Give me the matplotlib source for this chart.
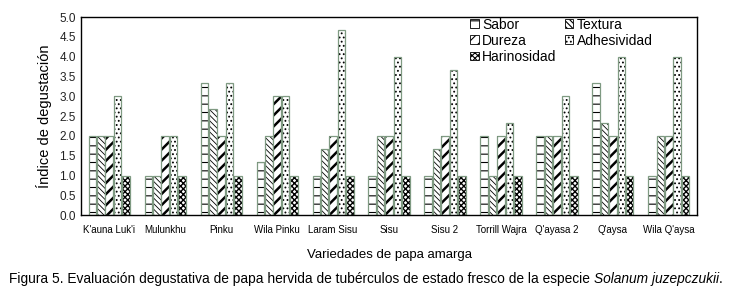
import numpy as np
import matplotlib
matplotlib.use("Agg")
import matplotlib.pyplot as plt
from matplotlib.patches import Patch

plt.rcParams['font.family'] = ['Liberation Sans', 'DejaVu Sans']
plt.rcParams['hatch.linewidth'] = 0.8

# variedades
variedades = ["K'auna Luk'i", "Mulunkhu", "Pinku", "Wila Pinku", "Laram Sisu", "Sisu",
              "Sisu 2", "Torrill Wajra", "Q'ayasa 2", "Q'aysa", "Wila Q'aysa"]

sabor = [2.0, 1.0, 3.33, 1.33, 1.0, 1.0, 1.0, 2.0, 2.0, 3.33, 1.0]
textura = [2.0, 1.0, 2.67, 2.0, 1.67, 2.0, 1.67, 1.0, 2.0, 2.33, 2.0]
dureza = [2.0, 2.0, 2.0, 3.0, 2.0, 2.0, 2.0, 2.0, 2.0, 2.0, 2.0]
adhesividad = [3.0, 2.0, 3.33, 3.0, 4.67, 4.0, 3.67, 2.33, 3.0, 4.0, 4.0]
harinosidad = [1.0, 1.0, 1.0, 1.0, 1.0, 1.0, 1.0, 1.0, 1.0, 1.0, 1.0]

# nombre, valores, hatch, grosor de hatch
series = [("Sabor", sabor, "--", 0.8),
          ("Textura", textura, "\\\\\\\\\\\\", 0.6),
          ("Dureza", dureza, "///", 1.8),
          ("Adhesividad", adhesividad, "....", 0.8),
          ("Harinosidad", harinosidad, "xxxxxx", 1.0)]

edge = "#7f9a82"

fig = plt.figure(figsize=(7.32, 3.0), dpi=100)
ax = fig.add_axes([0.111, 0.283, 0.841, 0.66])

x = np.arange(len(variedades))
pitch = 0.15
w = 0.135
handles = {}
for i, (name, vals, hatch, hlw) in enumerate(series):
    pos = x + (i - 2) * pitch
    with plt.rc_context({'hatch.linewidth': hlw}):
        ax.bar(pos, vals, w, color="white", edgecolor="black", hatch=hatch, linewidth=0)
        handles[name] = Patch(facecolor="white", edgecolor="black", hatch=hatch, linewidth=0.6)
    ax.bar(pos, vals, w, color="none", edgecolor=edge, linewidth=0.9)

ax.set_xlim(-0.5, len(variedades) - 0.5)
ax.set_ylim(0, 5)
ax.set_yticks(np.arange(0, 5.01, 0.5))
ax.set_yticklabels([f"{v:.1f}" for v in np.arange(0, 5.01, 0.5)], fontsize=8.5, color="#222222")
ax.set_xticks(x)
ax.set_xticklabels(variedades, fontsize=7)
ax.tick_params(axis="y", length=0, pad=4)
ax.tick_params(axis="x", length=0, pad=7)
for s in ax.spines.values():
    s.set_linewidth(1.0)

ax.set_ylabel("Índice de degustación", fontsize=10.5, labelpad=5)
ax.set_xlabel("Variedades de papa amarga", fontsize=9.5, labelpad=10)

order = ["Sabor", "Dureza", "Harinosidad", "Textura", "Adhesividad"]
ax.legend([handles[n] for n in order], order, ncol=2, frameon=False,
          loc="upper left", bbox_to_anchor=(0.623, 1.025), fontsize=10,
          handlelength=0.6, handleheight=0.6, handletextpad=0.25,
          columnspacing=0.6, labelspacing=0.15, borderaxespad=0)

t1 = fig.text(0.012, 0.07,
              "Figura 5. Evaluación degustativa de papa hervida de tubérculos de estado fresco de la especie ",
              ha="left", va="center", fontsize=9.9)
fig.canvas.draw()
bb = t1.get_window_extent().transformed(fig.transFigure.inverted())
t2 = fig.text(bb.x1, 0.07, "Solanum juzepczukii", ha="left", va="center", fontsize=9.9, style="italic")
fig.canvas.draw()
bb2 = t2.get_window_extent().transformed(fig.transFigure.inverted())
fig.text(bb2.x1, 0.07, ".", ha="left", va="center", fontsize=9.9)

fig.savefig("out.png", dpi=100)
